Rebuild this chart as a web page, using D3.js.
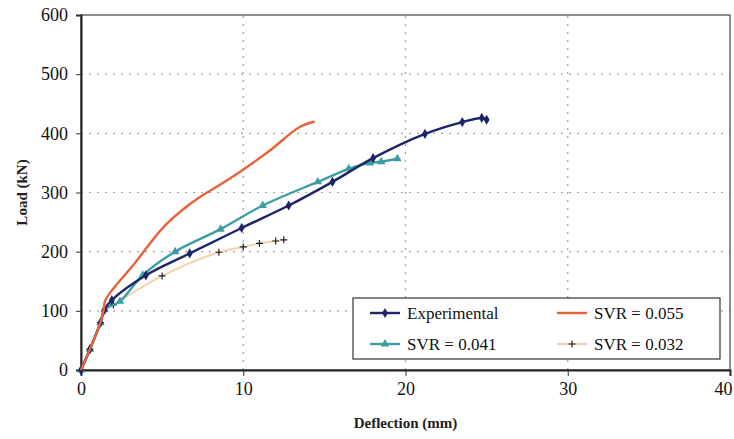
<!DOCTYPE html>
<html>
<head>
<meta charset="utf-8">
<script src="https://cdn.jsdelivr.net/npm/d3@7"></script>
<style>
  body { margin: 0; background: #fff; }
  svg { display: block; }
  svg text { font-family: "Liberation Serif", "Times New Roman", "DejaVu Serif", serif; }
</style>
</head>
<body>
<svg width="734" height="439"></svg>
<script>
const svg = d3.select('svg');
const pad = { top: 15, right: 4, bottom: 69, left: 81 };
const width = 734, height = 439;
const serif = '"Liberation Serif", "Times New Roman", serif';

// data (deflection mm, load kN)
const experimental = [[0, 0], [0.55, 35], [1.2, 80], [1.45, 102], [1.9, 118], [4, 160], [6.7, 197],
  [9.9, 240], [12.8, 278], [15.5, 318], [18, 358], [21.2, 399], [23.5, 419], [24.7, 426], [25, 423]];
const svr055 = [[0, 0], [0.55, 35], [1.2, 80], [1.4, 102], [1.5, 118], [3.3, 180], [5.1, 242],
  [6.5, 276], [7.2, 290], [9.2, 324], [11.5, 368], [13.5, 411], [14.4, 420]];
const svr041 = [[0, 0], [0.55, 35], [1.2, 80], [1.45, 102], [2.4, 116], [3.8, 160], [5.8, 200],
  [8.6, 238], [11.2, 278], [14.6, 318], [16.5, 340], [17.8, 350], [18.5, 352], [19.5, 357]];
const svr032 = [[0, 0], [0.55, 35], [1.2, 80], [1.45, 100], [2, 110], [5.0, 159], [8.5, 199],
  [10, 208], [11, 214], [12, 218], [12.5, 220]];

const xTicks = [0, 10, 20, 30, 40];
const yTicks = [0, 100, 200, 300, 400, 500, 600];

const series = [
  { name: 'Experimental', data: experimental, color: '#1c2566', marker: 'diamond' },
  { name: 'SVR = 0.055', data: svr055, color: '#e8623a', marker: null },
  { name: 'SVR = 0.041', data: svr041, color: '#3c9ea4', marker: 'triangle' },
  { name: 'SVR = 0.032', data: svr032, color: '#f5d2ac', marker: 'plus' }
];

const x = d3.scaleLinear().domain([0, 40]).range([pad.left, width - pad.right]);
const y = d3.scaleLinear().domain([0, 600]).range([height - pad.bottom, pad.top]);

// grid
const grid = svg.append('g');
yTicks.slice(1, -1).forEach(v => {
  grid.append('line')
    .attr('x1', x(0)).attr('x2', x(40)).attr('y1', y(v)).attr('y2', y(v))
    .attr('stroke', '#a0a0a0').attr('stroke-width', 1.2)
    .attr('stroke-dasharray', '2,6');
});
xTicks.slice(1, -1).forEach(v => {
  grid.append('line')
    .attr('x1', x(v)).attr('x2', x(v)).attr('y1', y(0)).attr('y2', y(600))
    .attr('stroke', '#a0a0a0').attr('stroke-width', 1.2)
    .attr('stroke-dasharray', '2,6');
});

// frame
svg.append('rect')
  .attr('x', x(0)).attr('y', y(600))
  .attr('width', x(40) - x(0)).attr('height', y(0) - y(600))
  .attr('fill', 'none').attr('stroke', '#444').attr('stroke-width', 1.2);

const xAxis = svg.append('g')
  .attr('transform', `translate(0,${y(0)})`)
  .call(d3.axisBottom(x).tickValues(xTicks).tickSize(6).tickPadding(6));
const yAxis = svg.append('g')
  .attr('transform', `translate(${x(0)},0)`)
  .call(d3.axisLeft(y).tickValues(yTicks).tickSize(5).tickPadding(8));
[xAxis, yAxis].forEach(a => {
  a.attr('font-family', serif);
  a.select('.domain').attr('stroke', '#222').attr('stroke-width', 2);
  a.selectAll('.tick line').attr('stroke', '#333');
  a.selectAll('text').attr('font-size', 18).attr('fill', '#111')
    .attr('font-family', serif);
});
xAxis.selectAll('.tick text').filter(d => d === 40).attr('dx', -7);

// lines
const line = d3.line().x(d => x(d[0])).y(d => y(d[1])).curve(d3.curveCatmullRom.alpha(0.5));
const plot = svg.append('g');

function marker (g, type, cx, cy, color) {
  if (type === 'diamond') {
    g.append('path').attr('d', d3.symbol(d3.symbolDiamond, 30)())
      .attr('transform', `translate(${cx},${cy})`).attr('fill', color);
  } else if (type === 'triangle') {
    g.append('path').attr('d', d3.symbol(d3.symbolTriangle, 32)())
      .attr('transform', `translate(${cx},${cy})`).attr('fill', color);
  } else if (type === 'plus') {
    g.append('path').attr('d', `M${cx - 3.5},${cy}H${cx + 3.5}M${cx},${cy - 3.5}V${cy + 3.5}`)
      .attr('stroke', '#222').attr('stroke-width', 1.2);
  }
}

[series[3], series[2], series[0], series[1]].forEach(s => {
  plot.append('path').datum(s.data)
    .attr('d', line)
    .attr('fill', 'none')
    .attr('stroke', s.color)
    .attr('stroke-width', s.marker === 'plus' ? 2 : 2.4);
  if (s.marker) {
    s.data.forEach(d => marker(plot, s.marker, x(d[0]), y(d[1]), s.color));
  }
});

// legend
const lg = svg.append('g');
lg.append('rect')
  .attr('x', 353).attr('y', 298).attr('width', 367).attr('height', 61)
  .attr('fill', '#fff').attr('stroke', '#333').attr('stroke-width', 1.2);
const legendPos = [[370, 313], [557, 313], [370, 344], [557, 344]];
series.forEach((s, i) => {
  const [lx, ly] = legendPos[i];
  lg.append('line')
    .attr('x1', lx).attr('x2', lx + 30).attr('y1', ly).attr('y2', ly)
    .attr('stroke', s.color).attr('stroke-width', 2.4);
  marker(lg, s.marker, lx + 15, ly, s.color);
  lg.append('text')
    .attr('x', lx + 37).attr('y', ly).attr('dy', '0.35em')
    .attr('font-family', serif)
    .attr('font-size', 17).attr('fill', '#111')
    .text(s.name);
});

// axis titles
svg.append('text')
  .attr('x', x(20)).attr('y', 428)
  .attr('text-anchor', 'middle').attr('font-family', serif)
  .attr('font-size', 15).attr('font-weight', 'bold').attr('fill', '#222')
  .text('Deflection (mm)');
svg.append('text')
  .attr('transform', `translate(22,${y(300)}) rotate(-90)`)
  .attr('text-anchor', 'middle').attr('dy', '0.35em').attr('font-family', serif)
  .attr('font-size', 15).attr('font-weight', 'bold').attr('fill', '#222')
  .text('Load (kN)');
</script>
</body>
</html>
